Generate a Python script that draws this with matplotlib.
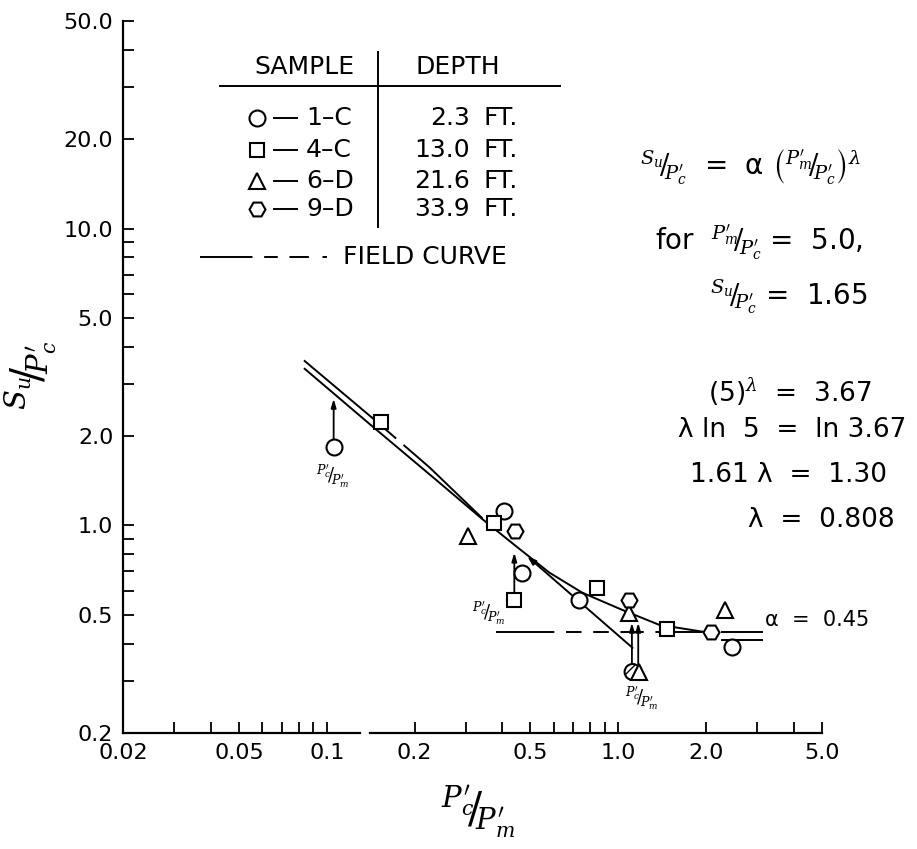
import matplotlib
matplotlib.use("Agg")
import matplotlib.pyplot as plt
from matplotlib.ticker import NullFormatter

# ---------------- data ----------------
x_major = [0.02, 0.05, 0.1, 0.2, 0.5, 1.0, 2.0, 5.0]
x_major_labels = ["0.02", "0.05", "0.1", "0.2", "0.5", "1.0", "2.0", "5.0"]
x_minor = [0.03, 0.04, 0.06, 0.07, 0.08, 0.09, 0.3, 0.4, 0.6, 0.7, 0.8, 0.9, 3.0, 4.0]
y_major = [0.2, 0.5, 1.0, 2.0, 5.0, 10.0, 20.0, 50.0]
y_major_labels = ["0.2", "0.5", "1.0", "2.0", "5.0", "10.0", "20.0", "50.0"]
y_minor = [0.3, 0.4, 0.6, 0.7, 0.8, 0.9, 3.0, 4.0, 6.0, 7.0, 8.0, 9.0, 30.0, 40.0]

sample_names = ["1\u2013C", "4\u2013C", "6\u2013D", "9\u2013D"]
sample_depths = ["2.3", "13.0", "21.6", "33.9"]

s1C_x = [0.106, 0.406, 0.469, 0.735, 2.45]
s1C_y = [1.84, 1.12, 0.694, 0.562, 0.39]
s1C_hatched_x = [1.12]
s1C_hatched_y = [0.321]
s4C_x = [0.153, 0.376, 0.44, 0.847, 1.47]
s4C_y = [2.23, 1.02, 0.562, 0.618, 0.449]
s6D_x = [0.306, 1.09, 1.18, 2.32]
s6D_y = [0.92, 0.508, 0.32, 0.52]
s9D_x = [0.444, 1.09]
s9D_y = [0.955, 0.562]
s9D_open_x = [2.08]
s9D_open_y = [0.437]

main_curve_x = [0.084, 0.140, 0.238, 0.342, 0.447, 0.580, 0.752, 1.03, 1.38, 1.94]
main_curve_y = [3.37, 2.20, 1.42, 1.05, 0.85, 0.694, 0.594, 0.52, 0.463, 0.439]
field_solid_x = [0.084, 0.142]
field_solid_y = [3.58, 2.32]
field_dash_x = [0.142, 0.225, 0.342]
field_dash_y = [2.32, 1.57, 1.057]
field_flat_x = [0.382, 1.94]
field_flat_y = [0.439, 0.439]
alpha_line_x = [2.27, 3.11]
alpha_line_y = [0.439, 0.439]
lower_flat_x = [2.27, 3.11]
lower_flat_y = [0.412, 0.412]
branch_x = [1.12, 0.488]
branch_y = [0.387, 0.786]

arrows = [  # (x, y_from, y_to)
    (0.1056, 1.96, 2.67),
    (0.44, 0.594, 0.81),
    (1.114, 0.339, 0.47),
    (1.171, 0.339, 0.47),
]
ratio_label_pos = [(0.105, 1.47), (0.36, 0.505), (1.2, 0.262)]

# ---------------- figure ----------------
W, H = 917, 849
fig = plt.figure(figsize=(W / 100, H / 100), dpi=100)
plt.rcParams["mathtext.fontset"] = "dejavuserif"
ax = fig.add_axes([123 / W, (H - 733) / H, 699 / W, 712 / H])
ax.set_xscale("log")
ax.set_yscale("log")
ax.set_xlim(0.02, 5.0)
ax.set_ylim(0.2, 50.0)

ax.set_xticks(x_major)
ax.set_xticklabels(x_major_labels)
ax.set_xticks(x_minor, minor=True)
ax.set_yticks(y_major)
ax.set_yticklabels(y_major_labels)
ax.set_yticks(y_minor, minor=True)
ax.xaxis.set_minor_formatter(NullFormatter())
ax.yaxis.set_minor_formatter(NullFormatter())
ax.tick_params(which="both", direction="in", length=8, width=1.3,
               labelsize=16, pad=7)
for s in ["top", "right", "bottom"]:
    ax.spines[s].set_visible(False)
ax.spines["left"].set_linewidth(1.6)
# bottom axis line (with the small break seen in the original)
ax.plot([0, (360 - 123) / 699], [0, 0], transform=ax.transAxes, color="k",
        lw=1.6, clip_on=False)
ax.plot([(370 - 123) / 699, 1], [0, 0], transform=ax.transAxes, color="k",
        lw=1.6, clip_on=False)

LW = 1.4
# curves
ax.plot(main_curve_x, main_curve_y, color="k", lw=LW, zorder=2)
ax.plot(field_solid_x, field_solid_y, color="k", lw=LW, zorder=2)
ax.plot(field_dash_x, field_dash_y, color="k", lw=LW, zorder=2,
        linestyle=(2, (5, 6, 8, 5, 60, 2)))
ax.plot(field_flat_x, field_flat_y, color="k", lw=LW, zorder=2,
        linestyle=(0, (30, 6, 8, 6, 8, 6, 12, 6, 60, 2)))
ax.plot(alpha_line_x, alpha_line_y, color="k", lw=LW, zorder=2)
ax.plot(lower_flat_x, lower_flat_y, color="k", lw=LW, zorder=2)
ax.annotate("", xy=(branch_x[1], branch_y[1]), xytext=(branch_x[0], branch_y[0]),
            arrowprops=dict(arrowstyle="-|>,head_length=0.5,head_width=0.18",
                            color="k", lw=LW, shrinkA=0, shrinkB=0), zorder=2)
for xa, y0, y1 in arrows:
    ax.annotate("", xy=(xa, y1), xytext=(xa, y0),
                arrowprops=dict(arrowstyle="-|>,head_length=0.5,head_width=0.15",
                                color="k", lw=1.3, shrinkA=0, shrinkB=0), zorder=2)

mk = dict(linestyle="none", markerfacecolor="white", markeredgecolor="k",
          markeredgewidth=1.5, zorder=4)
ax.plot(s1C_x, s1C_y, marker="o", markersize=11.5, **mk)
ax.scatter(s1C_hatched_x, s1C_hatched_y, marker="o", s=11.5 ** 2, facecolor="white",
           edgecolor="k", linewidths=1.5, hatch="///", zorder=4)
ax.plot(s4C_x, s4C_y, marker="s", markersize=10.5, **mk)
ax.plot(s6D_x, s6D_y, marker="^", markersize=12, **mk)
ax.plot(s9D_x, s9D_y, marker="H", markersize=11.5, **mk)
ax.plot(s9D_open_x, s9D_open_y, marker="H", markersize=11.5, linestyle="none",
        markerfacecolor="none", markeredgecolor="k", markeredgewidth=1.5, zorder=4)

small_frac = r"$^{P^{\prime}_{c}}\!/\!_{P^{\prime}_{m}}$"
for (lx, ly) in ratio_label_pos:
    ax.text(lx, ly, small_frac, fontsize=13, ha="center", va="center",
            fontweight="bold")


# ---------------- texts in pixel coordinates ----------------
def P(x, y):
    return (x / W, 1 - y / H)


FS = 18
fig.text(*P(304, 67), "SAMPLE", fontsize=FS, ha="center", va="center")
fig.text(*P(458, 67), "DEPTH", fontsize=FS, ha="center", va="center")
fig.add_artist(plt.Line2D([220 / W, 560 / W], [1 - 86 / H] * 2, color="k", lw=1.4))
fig.add_artist(plt.Line2D([378 / W] * 2, [1 - 52 / H, 1 - 227 / H], color="k", lw=1.4))
row_y = [118, 150, 181, 209]
row_markers = [("o", 11.5), ("s", 10.5), ("^", 12), ("H", 11.5)]
for yy, (m, ms), name, dep in zip(row_y, row_markers, sample_names, sample_depths):
    fig.add_artist(plt.Line2D([257 / W], [1 - yy / H], marker=m, markersize=ms,
                              markerfacecolor="white", markeredgecolor="k",
                              markeredgewidth=1.5, linestyle="none"))
    fig.add_artist(plt.Line2D([274 / W, 297 / W], [1 - yy / H] * 2, color="k", lw=1.4))
    fig.text(*P(306, yy), name, fontsize=FS, ha="left", va="center")
    fig.text(*P(470, yy), dep, fontsize=FS, ha="right", va="center")
    fig.text(*P(483, yy), "FT.", fontsize=FS, ha="left", va="center")
fig.add_artist(plt.Line2D([200 / W, 327 / W], [1 - 257 / H] * 2, color="k", lw=1.4,
                          linestyle=(0, (27, 6, 7, 6, 10, 7, 30))))
fig.text(*P(343, 257), "FIELD CURVE", fontsize=FS, ha="left", va="center")

Su = r"S_{u}"
Pc = r"P^{\prime}_{c}"
Pm = r"P^{\prime}_{m}"


def frac(a, b):
    return r"$^{" + a + r"}\!/\!_{" + b + r"}$"


eq1 = frac(Su, Pc) + r"  =  α $\left(^{" + Pm + r"}\!/\!_{" + Pc + r"}\right)^{\lambda}$"
fig.text(*P(640, 168), eq1, fontsize=FS + 2, ha="left", va="center")
fig.text(*P(655, 243), "for  " + frac(Pm, Pc) + " =  5.0,", fontsize=FS + 2,
         ha="left", va="center")
fig.text(*P(710, 297), frac(Su, Pc) + " =  1.65", fontsize=FS + 2, ha="left", va="center")
fig.text(*P(708, 392), r"(5)$^{\lambda}$  =  3.67", fontsize=FS + 1, ha="left", va="center")
fig.text(*P(678, 430), "λ ln  5  =  ln 3.67", fontsize=FS + 1, ha="left", va="center")
fig.text(*P(690, 475), "1.61 λ  =  1.30", fontsize=FS + 1, ha="left", va="center")
fig.text(*P(748, 520), "λ  =  0.808", fontsize=FS + 1, ha="left", va="center")
fig.text(*P(765, 620), "α  =  0.45", fontsize=15, ha="left", va="center")

fig.text(*P(30, 375), frac(Su, Pc), fontsize=30, rotation=90, ha="center", va="center")
fig.text(*P(478, 812), frac(Pc, Pm), fontsize=30, ha="center", va="center")

fig.savefig("out.png", dpi=100)
